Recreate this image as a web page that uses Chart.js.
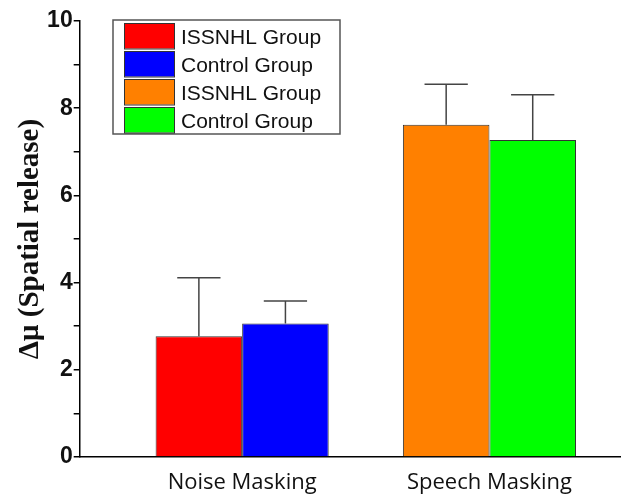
<!DOCTYPE html>
<html>
<head>
<meta charset="utf-8">
<script src="https://cdn.jsdelivr.net/npm/chart.js@4/dist/chart.umd.min.js"></script>
<style>
  html, body { margin: 0; padding: 0; background: #ffffff; }
  #wrap { width: 621px; height: 498px; position: relative; }
</style>
</head>
<body>
<div id="wrap"><canvas id="c" width="621" height="498"></canvas></div>
<script>
// ---- Data ----
const categories = ['Noise Masking', 'Speech Masking'];
const seriesLabels = ['ISSNHL Group', 'Control Group', 'ISSNHL Group', 'Control Group'];
const issnhlNoise   = [2.77, null];
const controlNoise  = [3.06, null];
const issnhlSpeech  = [null, 7.62];
const controlSpeech = [null, 7.27];
const errIssnhlNoise   = [1.34, null];
const errControlNoise  = [0.52, null];
const errIssnhlSpeech  = [null, 0.93];
const errControlSpeech = [null, 1.04];
const yTickLabels = [0, 2, 4, 6, 8, 10];
const yTitle = 'Δμ (Spatial release)';

const seriesValues = [issnhlNoise, controlNoise, issnhlSpeech, controlSpeech];
const seriesErrors = [errIssnhlNoise, errControlNoise, errIssnhlSpeech, errControlSpeech];
const seriesColors = ['#ff0000', '#0000ff', '#ff8000', '#00ff00'];

const datasets = seriesValues.map((vals, k) => ({
  label: seriesLabels[k],
  data: vals.map((v, i) => ({ x: i, y: v })),
  errors: seriesErrors[k],
  backgroundColor: seriesColors[k],
  borderColor: '#333333',
  borderWidth: 1,
  borderSkipped: 'bottom',
  categoryPercentage: 0.70,
  barPercentage: 1.0,
  skipNull: true
}));

const errorBars = {
  id: 'errorBars',
  afterDatasetsDraw(chart) {
    const ctx = chart.ctx;
    const ys = chart.scales.y;
    ctx.save();
    ctx.strokeStyle = '#444444';
    ctx.lineWidth = 1.5;
    chart.data.datasets.forEach((ds, di) => {
      const meta = chart.getDatasetMeta(di);
      meta.data.forEach((bar, j) => {
        const v = ds.data[j].y;
        const e = ds.errors[j];
        if (v === null || e === null) return;
        const top = ys.getPixelForValue(v + e);
        const half = bar.width / 4;
        ctx.beginPath();
        ctx.moveTo(bar.x, bar.y);
        ctx.lineTo(bar.x, top);
        ctx.moveTo(bar.x - half, top);
        ctx.lineTo(bar.x + half, top);
        ctx.stroke();
      });
    });
    ctx.restore();
  }
};

const boxLegend = {
  id: 'boxLegend',
  afterDraw(chart) {
    const ctx = chart.ctx;
    const x0 = 113, y0 = 20, w = 227, h = 114;
    ctx.save();
    ctx.strokeStyle = '#555555';
    ctx.lineWidth = 1.5;
    ctx.strokeRect(x0, y0, w, h);
    ctx.font = '21px "Liberation Sans", Arial, sans-serif';
    ctx.textBaseline = 'alphabetic';
    ctx.textAlign = 'left';
    chart.data.datasets.forEach((ds, i) => {
      const sy = y0 + 3 + i * 28;
      ctx.fillStyle = ds.backgroundColor;
      ctx.fillRect(124, sy, 50, 25.5);
      ctx.strokeStyle = '#333333';
      ctx.lineWidth = 1;
      ctx.strokeRect(124.5, sy + 0.5, 50, 25.5);
      ctx.fillStyle = '#111111';
      ctx.fillText(ds.label, 181, sy + 21);
    });
    ctx.restore();
  }
};

new Chart(document.getElementById('c'), {
  type: 'bar',
  data: { datasets },
  options: {
    responsive: false,
    animation: false,
    layout: { padding: { left: 16, top: 21, right: 0, bottom: -11 } },
    plugins: { legend: { display: false }, tooltip: { enabled: false } },
    scales: {
      x: {
        type: 'linear',
        offset: false,
        min: -0.657,
        max: 1.532,
        afterBuildTicks(scale) { scale.ticks = categories.map((c, i) => ({ value: i })); },
        ticks: {
          autoSkip: false,
          maxRotation: 0,
          padding: 15,
          color: '#111111',
          font: { family: '"Open Sans", Lato, sans-serif', size: 22, lineHeight: 1 },
          callback: (v) => categories[v]
        },
        grid: { display: true, drawOnChartArea: false, drawTicks: false },
        border: { display: true, color: '#000000', width: 1.5 }
      },
      y: {
        min: 0,
        max: 10,
        ticks: {
          stepSize: 1,
          autoSkip: false,
          padding: 1,
          color: '#111111',
          font: { family: '"Liberation Sans", Arial, sans-serif', size: 23, weight: 'bold' },
          callback: (v) => (yTickLabels.includes(v) ? String(v) : '')
        },
        grid: { drawOnChartArea: false, drawTicks: true, tickLength: 6, color: '#000000', lineWidth: 1.5 },
        border: { display: true, color: '#000000', width: 1.5 },
        title: {
          display: true,
          text: yTitle,
          color: '#111111',
          padding: { top: 1, bottom: 3 },
          font: { family: '"Liberation Serif", "Times New Roman", serif', size: 29, weight: 'bold', lineHeight: 0.9 }
        }
      }
    }
  },
  plugins: [errorBars, boxLegend]
});
</script>
</body>
</html>
